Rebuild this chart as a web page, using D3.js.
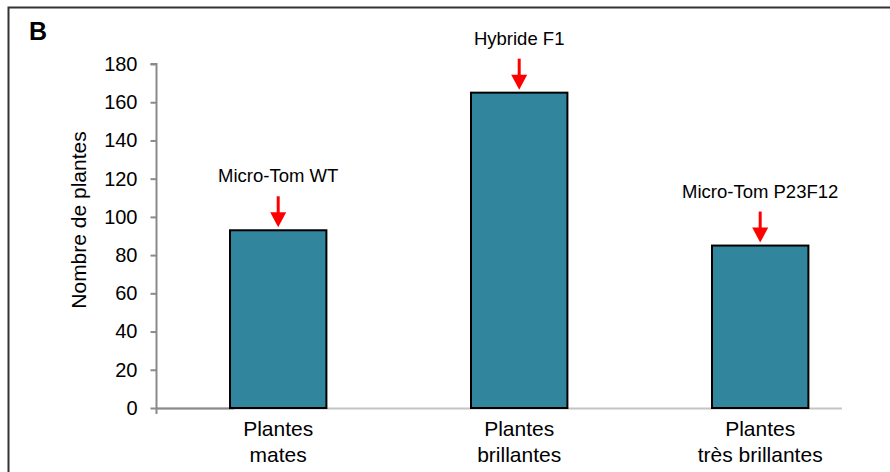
<!DOCTYPE html>
<html><head><meta charset="utf-8">
<script src="https://cdn.jsdelivr.net/npm/d3@7"></script>
<style>body{margin:0;background:#fff}svg{display:block;font-family:"Liberation Sans",Arial,sans-serif}</style>
</head><body><svg id="c" width="890" height="472"></svg>
<script>
const categories = [["Plantes","mates"],["Plantes","brillantes"],["Plantes","très brillantes"]];
const values = [93, 165, 85];
const annotations = ["Micro-Tom WT","Hybride F1","Micro-Tom P23F12"];
const yTicks = [0,20,40,60,80,100,120,140,160,180];
const yTitle = "Nombre de plantes";
const panelLabel = "B";

const FONT = "Liberation Sans, Arial, sans-serif";
const svg = d3.select("#c");
// frame
svg.append("path").attr("d","M8.5,472 V7.5 H890").attr("fill","none").attr("stroke","#333").attr("stroke-width",2);
svg.append("text").attr("x",29).attr("y",40).attr("font-size",25).attr("font-weight","bold").text(panelLabel);

const y = d3.scaleLinear().domain([0,180]).range([408,64]);
const x = d3.scaleBand().domain(d3.range(values.length)).range([157.7,880.7]).paddingInner(0.6).paddingOuter(0.3);

// x axis line
svg.append("line").attr("x1",156).attr("x2",842).attr("y1",408.5).attr("y2",408.5).attr("stroke","#c4c4c4").attr("stroke-width",2);
svg.append("line").attr("x1",156).attr("x2",234).attr("y1",408.5).attr("y2",408.5).attr("stroke","#8a8a8a").attr("stroke-width",2);

// y axis
const ya = svg.append("g").attr("transform","translate(156.5,0)")
  .call(d3.axisLeft(y).tickValues(yTicks).tickSize(6).tickPadding(13));
ya.attr("font-size",20).attr("font-family",FONT);
ya.select(".domain").attr("stroke","#8a8a8a").attr("stroke-width",2).attr("d",`M-6,${y(180)}H0V${y(0)+6}`);
ya.selectAll(".tick line").attr("stroke","#8a8a8a").attr("stroke-width",2);
ya.selectAll(".tick text").attr("fill","#000");

svg.append("text").attr("transform",`translate(86,220) rotate(-90)`).attr("text-anchor","middle")
  .attr("font-size",21).text(yTitle);

// bars
svg.selectAll("rect.bar").data(values).join("rect").attr("class","bar")
  .attr("x",(d,i)=>x(i)).attr("width",x.bandwidth())
  .attr("y",d=>y(d)).attr("height",d=>y(0)-y(d))
  .attr("fill","#31859c").attr("stroke","#000").attr("stroke-width",2);

// category labels
categories.forEach((c,i)=>{
  const cx = x(i)+x.bandwidth()/2;
  c.forEach((t,j)=>{
    svg.append("text").attr("x",cx).attr("y",436+j*26).attr("text-anchor","middle").attr("font-size",21).text(t);
  });
});

// arrows and annotations
values.forEach((v,i)=>{
  const cx = x(i)+x.bandwidth()/2;
  const top = y(v);
  svg.append("line").attr("x1",cx).attr("x2",cx).attr("y1",top-34).attr("y2",top-15)
    .attr("stroke","#ff0000").attr("stroke-width",3);
  svg.append("path").attr("d",`M${cx-8},${top-18} L${cx+8},${top-18} L${cx},${top-3} Z`).attr("fill","#ff0000");
  svg.append("text").attr("x",cx).attr("y",top-48).attr("text-anchor","middle").attr("font-size",18.5).text(annotations[i]);
});
</script></body></html>
